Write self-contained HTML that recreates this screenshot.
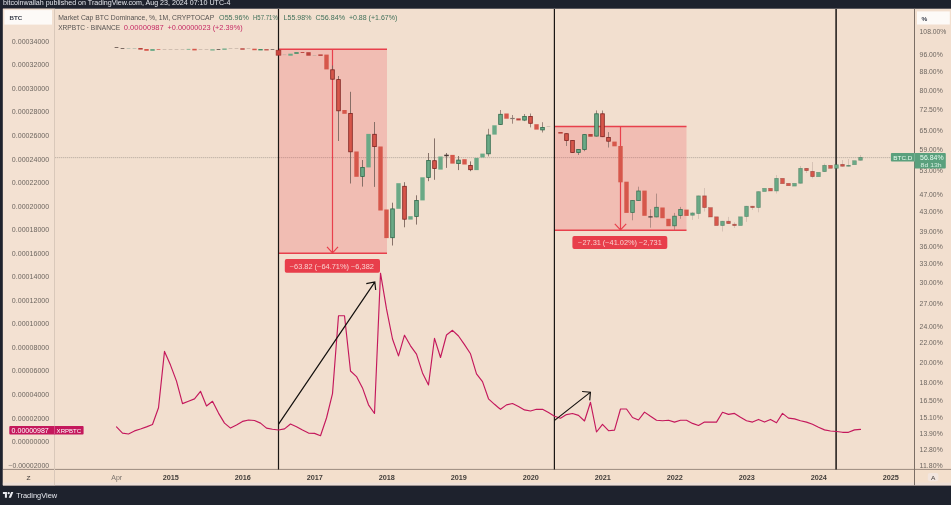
<!DOCTYPE html>
<html><head><meta charset="utf-8"><title>chart</title>
<style>
html,body{margin:0;padding:0;}
body{width:951px;height:505px;position:relative;overflow:hidden;background:#1e222d;font-family:"Liberation Sans",sans-serif;}
svg{position:absolute;left:0;top:0;will-change:transform;filter:blur(0.45px);}
text{white-space:pre;}
</style></head><body>
<svg width="971" height="525" viewBox="-10 -10 971 525" style="left:-10px;top:-10px">
<rect x="-10" y="-10" width="971" height="525" fill="#1e222d"/>
<rect x="2.9" y="8.7" width="960" height="476.5" fill="#f2dfcf"/>
<rect x="2.9" y="8.7" width="51.5" height="476.5" fill="#f3e1d2"/>
<rect x="2.9" y="469.9" width="960" height="15.4" fill="#f3dfcc"/>
<rect x="2.9" y="482.6" width="960" height="2.7" fill="#eddfd6"/>
<rect x="2.9" y="468.9" width="960" height="1" fill="#9c8b80"/>
<rect x="927.8" y="473" width="10.6" height="8.2" rx="2" fill="#f2e5de"/>
<rect x="54" y="8.7" width="1" height="476.5" fill="#d9c8ba"/>
<rect x="914" y="8.7" width="1" height="476.5" fill="#7b6e65"/>
<!-- chart drawings -->
<line x1="55" y1="157.6" x2="914" y2="157.6" stroke="#e0d0c2" stroke-width="1"/><line x1="55" y1="157.6" x2="914" y2="157.6" stroke="#c2b2a6" stroke-width="0.9" stroke-dasharray="1 1"/>
<rect x="278.5" y="49.2" width="108.5" height="204" fill="#f23645" fill-opacity="0.2"/>
<path d="M278.5 49.3H387M278.5 253.2H387" stroke="#e8404c" stroke-width="1.5" fill="none"/>
<path d="M332.5 49.2V252.5M327 246.8L332.5 252.8L338 246.8" stroke="#e8404c" stroke-width="1.2" fill="none"/>
<rect x="554.5" y="126.4" width="132" height="103.8" fill="#f23645" fill-opacity="0.2"/>
<path d="M554.5 126.4H686.5M554.5 230.2H686.5" stroke="#e8404c" stroke-width="1.5" fill="none"/>
<path d="M620.5 126.4V229.6M614.8 223.8L620.5 229.8L626.2 223.8" stroke="#e8404c" stroke-width="1.2" fill="none"/>
<line x1="278.5" y1="9" x2="278.5" y2="469.5" stroke="#1a1614" stroke-width="1.2"/>
<line x1="554.4" y1="9" x2="554.4" y2="469.5" stroke="#1a1614" stroke-width="1.2"/>
<line x1="836.1" y1="9" x2="836.1" y2="469.5" stroke="#1a1614" stroke-width="1.5"/>
<rect x="114.65" y="47.00" width="3.7" height="0.70" fill="#4a3a36"/>
<rect x="120.65" y="48.20" width="3.7" height="0.70" fill="#4a3a36"/>
<rect x="126.65" y="48.25" width="3.7" height="0.60" fill="#9fb3a3"/>
<rect x="132.65" y="48.25" width="3.7" height="0.60" fill="#9fb3a3"/>
<rect x="138.30" y="48.00" width="4.4" height="1.60" fill="#b9413b"/>
<rect x="144.30" y="49.00" width="4.4" height="1.80" fill="#d6574b"/>
<rect x="150.30" y="49.00" width="4.4" height="1.90" fill="#6aa986"/>
<rect x="156.65" y="49.00" width="3.7" height="0.70" fill="#d6574b"/>
<rect x="162.65" y="49.20" width="3.7" height="0.60" fill="#b9a99c"/>
<rect x="168.65" y="49.20" width="3.7" height="0.60" fill="#b9a99c"/>
<rect x="174.65" y="49.20" width="3.7" height="0.60" fill="#b9a99c"/>
<rect x="180.65" y="49.20" width="3.7" height="0.60" fill="#b9a99c"/>
<rect x="186.65" y="48.90" width="3.7" height="0.80" fill="#6aa986"/>
<rect x="192.30" y="48.80" width="4.4" height="1.60" fill="#d6574b"/>
<rect x="198.65" y="49.20" width="3.7" height="0.60" fill="#b9a99c"/>
<rect x="204.65" y="49.00" width="3.7" height="0.60" fill="#b9a99c"/>
<rect x="210.30" y="49.30" width="4.4" height="1.20" fill="#6aa986"/>
<rect x="216.65" y="49.00" width="3.7" height="0.70" fill="#4a3a36"/>
<rect x="222.30" y="48.50" width="4.4" height="1.30" fill="#6aa986"/>
<rect x="228.65" y="48.00" width="3.7" height="0.60" fill="#b9a99c"/>
<rect x="234.65" y="48.20" width="3.7" height="0.60" fill="#b9a99c"/>
<rect x="240.30" y="48.30" width="4.4" height="1.40" fill="#b9413b"/>
<rect x="246.65" y="48.40" width="3.7" height="0.60" fill="#b9a99c"/>
<rect x="252.30" y="48.70" width="4.4" height="1.50" fill="#d6574b"/>
<rect x="258.30" y="49.00" width="4.4" height="1.40" fill="#3f8d64"/>
<rect x="264.30" y="49.20" width="4.4" height="1.20" fill="#b9413b"/>
<rect x="270.65" y="49.40" width="3.7" height="0.60" fill="#4a3a36"/>
<rect x="276.1" y="50.2" width="4.8" height="5.0" fill="#c9463f" stroke="#9c2f2a" stroke-width="0.6"/>
<rect x="282.65" y="54.50" width="3.7" height="0.60" fill="#b9a99c"/>
<rect x="288.30" y="53.70" width="4.4" height="2.00" fill="#6aa986"/>
<rect x="294.30" y="52.20" width="4.4" height="1.60" fill="#3f8d64"/>
<rect x="300.65" y="52.10" width="3.7" height="0.90" fill="#b9413b"/>
<rect x="306.30" y="52.20" width="4.4" height="3.50" fill="#b9413b"/>
<rect x="312.65" y="55.40" width="3.7" height="0.60" fill="#b9a99c"/>
<rect x="318.30" y="54.40" width="4.4" height="1.50" fill="#b9413b"/>
<rect x="324.30" y="54.60" width="4.4" height="14.80" fill="#d6574b"/>
<line x1="332.5" y1="65.5" x2="332.5" y2="79.6" stroke="#7b655d" stroke-width="0.9" stroke-opacity="1.0"/>
<rect x="330.7" y="69.8" width="3.6" height="9.4" fill="#d6574b" stroke="#7d2320" stroke-width="0.8" stroke-opacity="1.0"/>
<line x1="338.5" y1="76.0" x2="338.5" y2="141.0" stroke="#7b655d" stroke-width="0.9" stroke-opacity="1.0"/>
<rect x="336.7" y="79.6" width="3.6" height="31.2" fill="#d6574b" stroke="#7d2320" stroke-width="0.8" stroke-opacity="1.0"/>
<rect x="342.30" y="110.00" width="4.4" height="3.80" fill="#d6574b"/>
<line x1="350.5" y1="91.8" x2="350.5" y2="183.5" stroke="#7b655d" stroke-width="0.9" stroke-opacity="1.0"/>
<rect x="348.7" y="113.4" width="3.6" height="38.4" fill="#d6574b" stroke="#7d2320" stroke-width="0.8" stroke-opacity="1.0"/>
<rect x="354.30" y="151.50" width="4.4" height="25.30" fill="#d6574b"/>
<line x1="362.5" y1="160.0" x2="362.5" y2="186.6" stroke="#7b655d" stroke-width="0.9" stroke-opacity="1.0"/>
<rect x="360.7" y="167.4" width="3.6" height="9.0" fill="#6aa986" stroke="#2f6a4c" stroke-width="0.8" stroke-opacity="1.0"/>
<rect x="366.30" y="133.90" width="4.4" height="33.50" fill="#6aa986"/>
<line x1="374.5" y1="122.0" x2="374.5" y2="186.9" stroke="#7b655d" stroke-width="0.9" stroke-opacity="1.0"/>
<rect x="372.7" y="134.3" width="3.6" height="12.3" fill="#d6574b" stroke="#7d2320" stroke-width="0.8" stroke-opacity="1.0"/>
<rect x="378.30" y="146.50" width="4.4" height="64.00" fill="#d6574b"/>
<rect x="384.30" y="209.50" width="4.4" height="28.60" fill="#d6574b"/>
<line x1="392.5" y1="202.7" x2="392.5" y2="245.5" stroke="#7b655d" stroke-width="0.9" stroke-opacity="1.0"/>
<rect x="390.7" y="208.9" width="3.6" height="28.8" fill="#6aa986" stroke="#2f6a4c" stroke-width="0.8" stroke-opacity="1.0"/>
<rect x="396.30" y="183.20" width="4.4" height="25.60" fill="#6aa986"/>
<line x1="404.5" y1="182.2" x2="404.5" y2="227.3" stroke="#7b655d" stroke-width="0.9" stroke-opacity="1.0"/>
<rect x="402.7" y="186.3" width="3.6" height="32.9" fill="#d6574b" stroke="#7d2320" stroke-width="0.8" stroke-opacity="1.0"/>
<rect x="408.30" y="216.20" width="4.4" height="3.40" fill="#6aa986"/>
<line x1="416.5" y1="195.3" x2="416.5" y2="224.6" stroke="#7b655d" stroke-width="0.9" stroke-opacity="1.0"/>
<rect x="414.7" y="200.4" width="3.6" height="16.1" fill="#6aa986" stroke="#2f6a4c" stroke-width="0.8" stroke-opacity="1.0"/>
<rect x="420.30" y="177.30" width="4.4" height="23.10" fill="#6aa986"/>
<line x1="428.5" y1="153.0" x2="428.5" y2="181.2" stroke="#7b655d" stroke-width="0.9" stroke-opacity="1.0"/>
<rect x="426.7" y="160.5" width="3.6" height="16.9" fill="#6aa986" stroke="#2f6a4c" stroke-width="0.8" stroke-opacity="1.0"/>
<line x1="434.5" y1="138.4" x2="434.5" y2="179.8" stroke="#7b655d" stroke-width="0.9" stroke-opacity="1.0"/>
<rect x="432.7" y="160.7" width="3.6" height="7.8" fill="#d6574b" stroke="#7d2320" stroke-width="0.8" stroke-opacity="1.0"/>
<rect x="438.30" y="156.50" width="4.4" height="13.10" fill="#6aa986"/>
<line x1="446.5" y1="153.0" x2="446.5" y2="167.9" stroke="#7b655d" stroke-width="0.9" stroke-opacity="1.0"/>
<rect x="444.7" y="155.1" width="3.6" height="0.7" fill="#4a3a36" stroke="#4a3a36" stroke-width="0.8" stroke-opacity="1.0"/>
<rect x="450.30" y="154.90" width="4.4" height="8.70" fill="#d6574b"/>
<line x1="458.5" y1="156.0" x2="458.5" y2="170.1" stroke="#7b655d" stroke-width="0.9" stroke-opacity="1.0"/>
<rect x="456.7" y="160.1" width="3.6" height="3.5" fill="#6aa986" stroke="#2f6a4c" stroke-width="0.8" stroke-opacity="1.0"/>
<rect x="462.30" y="159.20" width="4.4" height="5.30" fill="#d6574b"/>
<line x1="470.5" y1="161.4" x2="470.5" y2="171.2" stroke="#7b655d" stroke-width="0.9" stroke-opacity="1.0"/>
<rect x="468.7" y="165.5" width="3.6" height="4.2" fill="#d6574b" stroke="#7d2320" stroke-width="0.8" stroke-opacity="1.0"/>
<rect x="474.30" y="157.90" width="4.4" height="12.20" fill="#6aa986"/>
<rect x="480.30" y="153.60" width="4.4" height="3.90" fill="#6aa986"/>
<line x1="488.5" y1="128.8" x2="488.5" y2="156.4" stroke="#7b655d" stroke-width="0.9" stroke-opacity="0.8"/>
<rect x="486.7" y="135.0" width="3.6" height="18.8" fill="#6aa986" stroke="#2f6a4c" stroke-width="0.8" stroke-opacity="1.0"/>
<rect x="492.30" y="125.30" width="4.4" height="9.30" fill="#6aa986"/>
<line x1="500.5" y1="110.0" x2="500.5" y2="124.8" stroke="#7b655d" stroke-width="0.9" stroke-opacity="0.8"/>
<rect x="498.7" y="114.3" width="3.6" height="10.1" fill="#6aa986" stroke="#2f6a4c" stroke-width="0.8" stroke-opacity="1.0"/>
<rect x="504.30" y="113.50" width="4.4" height="5.20" fill="#d6574b"/>
<line x1="512.5" y1="115.0" x2="512.5" y2="123.7" stroke="#7b655d" stroke-width="0.9" stroke-opacity="0.8"/>
<rect x="510.7" y="118.3" width="3.6" height="0.4" fill="#85776f" stroke="#85776f" stroke-width="0.8" stroke-opacity="1.0"/>
<rect x="516.30" y="118.40" width="4.4" height="2.00" fill="#b9413b"/>
<line x1="524.5" y1="114.0" x2="524.5" y2="121.1" stroke="#7b655d" stroke-width="0.9" stroke-opacity="0.8"/>
<rect x="522.7" y="116.5" width="3.6" height="3.6" fill="#6aa986" stroke="#2f6a4c" stroke-width="0.8" stroke-opacity="1.0"/>
<line x1="530.5" y1="113.5" x2="530.5" y2="127.4" stroke="#7b655d" stroke-width="0.9" stroke-opacity="0.8"/>
<rect x="528.7" y="116.5" width="3.6" height="6.8" fill="#d6574b" stroke="#7d2320" stroke-width="0.8" stroke-opacity="1.0"/>
<rect x="534.30" y="124.20" width="4.4" height="5.40" fill="#d6574b"/>
<line x1="542.5" y1="122.2" x2="542.5" y2="132.5" stroke="#7b655d" stroke-width="0.9" stroke-opacity="0.8"/>
<rect x="540.7" y="127.4" width="3.6" height="2.5" fill="#6aa986" stroke="#2f6a4c" stroke-width="0.8" stroke-opacity="1.0"/>
<rect x="546.65" y="126.30" width="3.7" height="0.60" fill="#b9a99c"/>
<rect x="558.30" y="132.00" width="4.4" height="1.60" fill="#b9413b"/>
<line x1="566.5" y1="133.3" x2="566.5" y2="146.0" stroke="#7b655d" stroke-width="0.9" stroke-opacity="0.8"/>
<rect x="564.7" y="133.7" width="3.6" height="6.9" fill="#d6574b" stroke="#7d2320" stroke-width="0.8" stroke-opacity="1.0"/>
<line x1="572.5" y1="140.1" x2="572.5" y2="152.9" stroke="#7b655d" stroke-width="0.9" stroke-opacity="0.8"/>
<rect x="570.7" y="140.5" width="3.6" height="12.0" fill="#d6574b" stroke="#7d2320" stroke-width="0.8" stroke-opacity="1.0"/>
<line x1="578.5" y1="149.0" x2="578.5" y2="155.0" stroke="#7b655d" stroke-width="0.9" stroke-opacity="0.8"/>
<rect x="576.7" y="149.4" width="3.6" height="3.1" fill="#6aa986" stroke="#2f6a4c" stroke-width="0.8" stroke-opacity="1.0"/>
<line x1="584.5" y1="134.2" x2="584.5" y2="151.2" stroke="#7b655d" stroke-width="0.9" stroke-opacity="0.8"/>
<rect x="582.7" y="134.6" width="3.6" height="14.9" fill="#6aa986" stroke="#2f6a4c" stroke-width="0.8" stroke-opacity="1.0"/>
<rect x="588.30" y="134.00" width="4.4" height="2.70" fill="#b9413b"/>
<line x1="596.5" y1="110.4" x2="596.5" y2="136.5" stroke="#7b655d" stroke-width="0.9" stroke-opacity="0.8"/>
<rect x="594.7" y="113.8" width="3.6" height="22.3" fill="#6aa986" stroke="#2f6a4c" stroke-width="0.8" stroke-opacity="1.0"/>
<line x1="602.5" y1="110.5" x2="602.5" y2="137.1" stroke="#7b655d" stroke-width="0.9" stroke-opacity="0.8"/>
<rect x="600.7" y="113.8" width="3.6" height="22.9" fill="#d6574b" stroke="#7d2320" stroke-width="0.8" stroke-opacity="1.0"/>
<line x1="608.5" y1="132.1" x2="608.5" y2="147.5" stroke="#7b655d" stroke-width="0.9" stroke-opacity="0.8"/>
<rect x="606.7" y="137.5" width="3.6" height="3.7" fill="#d6574b" stroke="#7d2320" stroke-width="0.8" stroke-opacity="1.0"/>
<rect x="612.30" y="141.60" width="4.4" height="4.70" fill="#d6574b"/>
<rect x="618.30" y="146.00" width="4.4" height="36.30" fill="#d6574b"/>
<rect x="624.30" y="181.70" width="4.4" height="31.20" fill="#d6574b"/>
<line x1="632.5" y1="200.1" x2="632.5" y2="220.3" stroke="#7b655d" stroke-width="0.9" stroke-opacity="0.6"/>
<rect x="630.7" y="200.5" width="3.6" height="12.0" fill="#6aa986" stroke="#2f6a4c" stroke-width="0.8" stroke-opacity="0.85"/>
<line x1="638.5" y1="186.7" x2="638.5" y2="201.0" stroke="#7b655d" stroke-width="0.9" stroke-opacity="0.6"/>
<rect x="636.7" y="191.0" width="3.6" height="9.6" fill="#6aa986" stroke="#2f6a4c" stroke-width="0.8" stroke-opacity="0.85"/>
<rect x="642.30" y="190.60" width="4.4" height="25.20" fill="#d6574b"/>
<line x1="650.5" y1="209.3" x2="650.5" y2="227.7" stroke="#7b655d" stroke-width="0.9" stroke-opacity="0.6"/>
<rect x="648.7" y="216.7" width="3.6" height="0.4" fill="#4a3a36" stroke="#4a3a36" stroke-width="0.8" stroke-opacity="0.85"/>
<line x1="656.5" y1="193.6" x2="656.5" y2="217.3" stroke="#7b655d" stroke-width="0.9" stroke-opacity="0.6"/>
<rect x="654.7" y="207.3" width="3.6" height="9.6" fill="#6aa986" stroke="#2f6a4c" stroke-width="0.8" stroke-opacity="0.85"/>
<rect x="660.30" y="207.50" width="4.4" height="10.70" fill="#d6574b"/>
<rect x="666.30" y="218.80" width="4.4" height="7.40" fill="#d6574b"/>
<line x1="674.5" y1="212.9" x2="674.5" y2="229.8" stroke="#7b655d" stroke-width="0.9" stroke-opacity="0.6"/>
<rect x="672.7" y="216.2" width="3.6" height="9.6" fill="#6aa986" stroke="#2f6a4c" stroke-width="0.8" stroke-opacity="0.85"/>
<line x1="680.5" y1="206.9" x2="680.5" y2="218.8" stroke="#7b655d" stroke-width="0.9" stroke-opacity="0.6"/>
<rect x="678.7" y="209.5" width="3.6" height="6.0" fill="#6aa986" stroke="#2f6a4c" stroke-width="0.8" stroke-opacity="0.85"/>
<rect x="684.30" y="209.60" width="4.4" height="6.30" fill="#d6574b"/>
<line x1="692.5" y1="211.9" x2="692.5" y2="219.9" stroke="#7b655d" stroke-width="0.9" stroke-opacity="0.26"/>
<rect x="690.7" y="213.0" width="3.6" height="2.2" fill="#6aa986" stroke="#2f6a4c" stroke-width="0.8" stroke-opacity="0.51"/>
<line x1="698.5" y1="195.5" x2="698.5" y2="218.9" stroke="#7b655d" stroke-width="0.9" stroke-opacity="0.26"/>
<rect x="696.7" y="195.9" width="3.6" height="17.6" fill="#6aa986" stroke="#2f6a4c" stroke-width="0.8" stroke-opacity="0.51"/>
<line x1="704.5" y1="188.0" x2="704.5" y2="211.5" stroke="#7b655d" stroke-width="0.9" stroke-opacity="0.26"/>
<rect x="702.7" y="195.9" width="3.6" height="11.6" fill="#d6574b" stroke="#7d2320" stroke-width="0.8" stroke-opacity="0.51"/>
<rect x="708.6" y="207.6" width="3.8" height="9.4" fill="#d6574b" stroke="#7d2320" stroke-width="0.6" stroke-opacity="0.45"/>
<rect x="714.6" y="216.8" width="3.8" height="8.8" fill="#d6574b" stroke="#7d2320" stroke-width="0.6" stroke-opacity="0.45"/>
<line x1="722.5" y1="220.9" x2="722.5" y2="231.5" stroke="#7b655d" stroke-width="0.9" stroke-opacity="0.26"/>
<rect x="720.7" y="221.3" width="3.6" height="4.2" fill="#6aa986" stroke="#2f6a4c" stroke-width="0.8" stroke-opacity="0.51"/>
<line x1="728.5" y1="216.9" x2="728.5" y2="223.9" stroke="#7b655d" stroke-width="0.9" stroke-opacity="0.26"/>
<rect x="726.7" y="221.3" width="3.6" height="2.2" fill="#d6574b" stroke="#7d2320" stroke-width="0.8" stroke-opacity="0.51"/>
<line x1="734.5" y1="222.3" x2="734.5" y2="228.0" stroke="#7b655d" stroke-width="0.9" stroke-opacity="0.26"/>
<rect x="732.7" y="224.3" width="3.6" height="1.2" fill="#d6574b" stroke="#7d2320" stroke-width="0.8" stroke-opacity="0.51"/>
<rect x="738.6" y="216.8" width="3.8" height="8.8" fill="#6aa986" stroke="#2f6a4c" stroke-width="0.6" stroke-opacity="0.45"/>
<line x1="746.5" y1="205.9" x2="746.5" y2="221.9" stroke="#7b655d" stroke-width="0.9" stroke-opacity="0.26"/>
<rect x="744.7" y="206.3" width="3.6" height="10.2" fill="#6aa986" stroke="#2f6a4c" stroke-width="0.8" stroke-opacity="0.51"/>
<line x1="752.5" y1="205.9" x2="752.5" y2="210.0" stroke="#7b655d" stroke-width="0.9" stroke-opacity="0.26"/>
<rect x="750.7" y="206.3" width="3.6" height="1.2" fill="#d6574b" stroke="#7d2320" stroke-width="0.8" stroke-opacity="0.51"/>
<line x1="758.5" y1="191.3" x2="758.5" y2="212.3" stroke="#7b655d" stroke-width="0.9" stroke-opacity="0.26"/>
<rect x="756.7" y="191.7" width="3.6" height="15.8" fill="#6aa986" stroke="#2f6a4c" stroke-width="0.8" stroke-opacity="0.51"/>
<rect x="762.6" y="188.3" width="3.8" height="3.3" fill="#6aa986" stroke="#2f6a4c" stroke-width="0.6" stroke-opacity="0.45"/>
<rect x="768.6" y="188.3" width="3.8" height="2.7" fill="#d6574b" stroke="#7d2320" stroke-width="0.6" stroke-opacity="0.45"/>
<line x1="776.5" y1="175.0" x2="776.5" y2="193.5" stroke="#7b655d" stroke-width="0.9" stroke-opacity="0.26"/>
<rect x="774.7" y="178.4" width="3.6" height="12.5" fill="#6aa986" stroke="#2f6a4c" stroke-width="0.8" stroke-opacity="0.51"/>
<rect x="780.6" y="178.3" width="3.8" height="5.4" fill="#d6574b" stroke="#7d2320" stroke-width="0.6" stroke-opacity="0.45"/>
<rect x="786.6" y="183.3" width="3.8" height="2.4" fill="#d6574b" stroke="#7d2320" stroke-width="0.6" stroke-opacity="0.45"/>
<rect x="792.6" y="183.3" width="3.8" height="2.8" fill="#6aa986" stroke="#2f6a4c" stroke-width="0.6" stroke-opacity="0.45"/>
<line x1="800.5" y1="166.0" x2="800.5" y2="183.6" stroke="#7b655d" stroke-width="0.9" stroke-opacity="0.26"/>
<rect x="798.7" y="168.4" width="3.6" height="14.8" fill="#6aa986" stroke="#2f6a4c" stroke-width="0.8" stroke-opacity="0.51"/>
<line x1="806.5" y1="168.0" x2="806.5" y2="173.0" stroke="#7b655d" stroke-width="0.9" stroke-opacity="0.26"/>
<rect x="804.7" y="168.4" width="3.6" height="2.2" fill="#d6574b" stroke="#7d2320" stroke-width="0.8" stroke-opacity="0.51"/>
<line x1="812.5" y1="162.0" x2="812.5" y2="178.4" stroke="#7b655d" stroke-width="0.9" stroke-opacity="0.26"/>
<rect x="810.7" y="171.4" width="3.6" height="5.2" fill="#d6574b" stroke="#7d2320" stroke-width="0.8" stroke-opacity="0.51"/>
<rect x="816.6" y="172.3" width="3.8" height="4.4" fill="#6aa986" stroke="#2f6a4c" stroke-width="0.6" stroke-opacity="0.45"/>
<line x1="824.5" y1="163.6" x2="824.5" y2="172.0" stroke="#7b655d" stroke-width="0.9" stroke-opacity="0.26"/>
<rect x="822.7" y="165.4" width="3.6" height="6.2" fill="#6aa986" stroke="#2f6a4c" stroke-width="0.8" stroke-opacity="0.51"/>
<rect x="828.6" y="165.3" width="3.8" height="3.0" fill="#d6574b" stroke="#7d2320" stroke-width="0.6" stroke-opacity="0.45"/>
<rect x="834.6" y="164.7" width="3.8" height="3.6" fill="#6aa986" stroke="#2f6a4c" stroke-width="0.6" stroke-opacity="0.45"/>
<line x1="842.5" y1="160.0" x2="842.5" y2="166.6" stroke="#7b655d" stroke-width="0.9" stroke-opacity="0.26"/>
<rect x="840.7" y="164.4" width="3.6" height="1.8" fill="#d6574b" stroke="#7d2320" stroke-width="0.8" stroke-opacity="0.51"/>
<line x1="848.5" y1="159.0" x2="848.5" y2="166.6" stroke="#7b655d" stroke-width="0.9" stroke-opacity="0.26"/>
<rect x="846.7" y="165.4" width="3.6" height="0.8" fill="#6aa986" stroke="#2f6a4c" stroke-width="0.8" stroke-opacity="0.51"/>
<rect x="852.6" y="160.7" width="3.8" height="4.0" fill="#6aa986" stroke="#2f6a4c" stroke-width="0.6" stroke-opacity="0.45"/>
<line x1="860.5" y1="155.0" x2="860.5" y2="160.6" stroke="#7b655d" stroke-width="0.9" stroke-opacity="0.26"/>
<rect x="858.7" y="157.4" width="3.6" height="2.8" fill="#6aa986" stroke="#2f6a4c" stroke-width="0.8" stroke-opacity="0.51"/>
<polyline points="116.5,426.9 122.5,433.1 128.5,434.0 134.5,430.9 140.5,429.0 146.5,426.9 152.5,424.5 158.5,407.7 164.5,351.4 170.5,365.1 176.5,381.1 182.5,403.6 188.5,401.3 194.5,398.9 200.5,391.3 206.5,406.0 212.5,401.3 218.5,413.1 224.5,423.1 230.5,428.1 236.5,425.0 242.5,421.4 248.5,420.0 254.5,420.5 260.5,423.1 266.5,428.1 272.5,429.3 278.5,430.0 284.5,428.9 290.5,424.0 296.5,426.7 302.5,430.1 308.5,433.1 314.5,433.4 320.5,435.7 326.5,418.0 332.5,393.6 338.5,315.7 344.5,315.7 350.5,371.0 356.5,376.6 362.5,387.9 368.5,404.8 374.5,413.5 380.5,273.2 386.5,308.9 392.5,339.0 398.5,355.9 404.5,335.2 410.5,345.8 416.5,354.1 422.5,372.9 428.5,384.9 434.5,338.3 440.5,357.5 446.5,335.0 452.5,330.3 458.5,336.0 464.5,344.7 470.5,353.8 476.5,373.8 482.5,381.6 488.5,398.8 494.5,404.3 500.5,409.3 506.5,404.9 512.5,403.5 518.5,406.5 524.5,409.9 530.5,411.0 536.5,409.3 542.5,409.3 548.5,412.6 554.5,416.2 560.5,418.2 566.5,414.6 572.5,413.5 578.5,415.4 584.5,421.0 590.5,402.3 596.5,432.0 602.5,424.3 608.5,430.7 614.5,430.1 620.5,409.0 626.5,409.0 632.5,417.5 638.5,420.0 644.5,412.1 650.5,416.3 656.5,420.2 662.5,420.7 668.5,420.2 674.5,422.1 680.5,420.2 686.5,420.2 692.5,423.4 698.5,425.5 704.5,422.1 710.5,422.1 716.5,422.1 722.5,412.3 728.5,414.4 734.5,413.4 740.5,417.3 746.5,420.7 752.5,422.1 758.5,419.4 764.5,422.1 770.5,419.4 776.5,422.8 782.5,413.4 788.5,418.1 794.5,418.9 800.5,420.7 806.5,422.1 812.5,424.2 818.5,427.3 824.5,429.9 830.5,431.0 836.5,431.5 842.5,432.3 848.5,432.3 854.5,429.9 860.5,429.4" fill="none" stroke="#c4185c" stroke-width="1.15" stroke-linejoin="round" stroke-linecap="round"/>
<path d="M278.4 424.4L374.6 282.3M366.3 283.7L374.8 282L375.7 290" stroke="#14110f" stroke-width="1.2" fill="none"/>
<path d="M554.6 420.4L590.2 392.4M582.1 391.5L590.4 392.2L589.7 400.4" stroke="#14110f" stroke-width="1.2" fill="none"/>
<!-- axis texts -->
<g font-family="Liberation Sans, sans-serif" opacity="0.995">
<text x="11.80" y="44" font-size="6.3" fill="#6e6761" font-weight="normal" textLength="37.40" lengthAdjust="spacingAndGlyphs">0.00034000</text>
<text x="11.80" y="67" font-size="6.3" fill="#6e6761" font-weight="normal" textLength="37.40" lengthAdjust="spacingAndGlyphs">0.00032000</text>
<text x="11.80" y="91" font-size="6.3" fill="#6e6761" font-weight="normal" textLength="37.40" lengthAdjust="spacingAndGlyphs">0.00030000</text>
<text x="11.80" y="114" font-size="6.3" fill="#6e6761" font-weight="normal" textLength="37.40" lengthAdjust="spacingAndGlyphs">0.00028000</text>
<text x="11.80" y="138" font-size="6.3" fill="#6e6761" font-weight="normal" textLength="37.40" lengthAdjust="spacingAndGlyphs">0.00026000</text>
<text x="11.80" y="162" font-size="6.3" fill="#6e6761" font-weight="normal" textLength="37.40" lengthAdjust="spacingAndGlyphs">0.00024000</text>
<text x="11.80" y="185" font-size="6.3" fill="#6e6761" font-weight="normal" textLength="37.40" lengthAdjust="spacingAndGlyphs">0.00022000</text>
<text x="11.80" y="209" font-size="6.3" fill="#6e6761" font-weight="normal" textLength="37.40" lengthAdjust="spacingAndGlyphs">0.00020000</text>
<text x="11.80" y="232" font-size="6.3" fill="#6e6761" font-weight="normal" textLength="37.40" lengthAdjust="spacingAndGlyphs">0.00018000</text>
<text x="11.80" y="256" font-size="6.3" fill="#6e6761" font-weight="normal" textLength="37.40" lengthAdjust="spacingAndGlyphs">0.00016000</text>
<text x="11.80" y="279" font-size="6.3" fill="#6e6761" font-weight="normal" textLength="37.40" lengthAdjust="spacingAndGlyphs">0.00014000</text>
<text x="11.80" y="303" font-size="6.3" fill="#6e6761" font-weight="normal" textLength="37.40" lengthAdjust="spacingAndGlyphs">0.00012000</text>
<text x="11.80" y="326" font-size="6.3" fill="#6e6761" font-weight="normal" textLength="37.40" lengthAdjust="spacingAndGlyphs">0.00010000</text>
<text x="11.80" y="350" font-size="6.3" fill="#6e6761" font-weight="normal" textLength="37.40" lengthAdjust="spacingAndGlyphs">0.00008000</text>
<text x="11.80" y="373" font-size="6.3" fill="#6e6761" font-weight="normal" textLength="37.40" lengthAdjust="spacingAndGlyphs">0.00006000</text>
<text x="11.80" y="397" font-size="6.3" fill="#6e6761" font-weight="normal" textLength="37.40" lengthAdjust="spacingAndGlyphs">0.00004000</text>
<text x="11.80" y="421" font-size="6.3" fill="#6e6761" font-weight="normal" textLength="37.40" lengthAdjust="spacingAndGlyphs">0.00002000</text>
<text x="11.80" y="444" font-size="6.3" fill="#6e6761" font-weight="normal" textLength="37.40" lengthAdjust="spacingAndGlyphs">0.00000000</text>
<text x="8.40" y="468" font-size="6.3" fill="#6e6761" font-weight="normal" textLength="40.80" lengthAdjust="spacingAndGlyphs">−0.00002000</text>
<text x="919.60" y="34" font-size="6.3" fill="#6e6761" font-weight="normal" textLength="26.80" lengthAdjust="spacingAndGlyphs">108.00%</text>
<text x="919.60" y="57" font-size="6.3" fill="#6e6761" font-weight="normal" textLength="23.10" lengthAdjust="spacingAndGlyphs">96.00%</text>
<text x="919.60" y="74" font-size="6.3" fill="#6e6761" font-weight="normal" textLength="23.10" lengthAdjust="spacingAndGlyphs">88.00%</text>
<text x="919.60" y="93" font-size="6.3" fill="#6e6761" font-weight="normal" textLength="23.10" lengthAdjust="spacingAndGlyphs">80.00%</text>
<text x="919.60" y="112" font-size="6.3" fill="#6e6761" font-weight="normal" textLength="23.10" lengthAdjust="spacingAndGlyphs">72.50%</text>
<text x="919.60" y="133" font-size="6.3" fill="#6e6761" font-weight="normal" textLength="23.10" lengthAdjust="spacingAndGlyphs">65.00%</text>
<text x="919.60" y="152" font-size="6.3" fill="#6e6761" font-weight="normal" textLength="23.10" lengthAdjust="spacingAndGlyphs">59.00%</text>
<text x="919.60" y="173" font-size="6.3" fill="#6e6761" font-weight="normal" textLength="23.10" lengthAdjust="spacingAndGlyphs">53.00%</text>
<text x="919.60" y="197" font-size="6.3" fill="#6e6761" font-weight="normal" textLength="23.10" lengthAdjust="spacingAndGlyphs">47.00%</text>
<text x="919.60" y="214" font-size="6.3" fill="#6e6761" font-weight="normal" textLength="23.10" lengthAdjust="spacingAndGlyphs">43.00%</text>
<text x="919.60" y="234" font-size="6.3" fill="#6e6761" font-weight="normal" textLength="23.10" lengthAdjust="spacingAndGlyphs">39.00%</text>
<text x="919.60" y="249" font-size="6.3" fill="#6e6761" font-weight="normal" textLength="23.10" lengthAdjust="spacingAndGlyphs">36.00%</text>
<text x="919.60" y="266" font-size="6.3" fill="#6e6761" font-weight="normal" textLength="23.10" lengthAdjust="spacingAndGlyphs">33.00%</text>
<text x="919.60" y="285" font-size="6.3" fill="#6e6761" font-weight="normal" textLength="23.10" lengthAdjust="spacingAndGlyphs">30.00%</text>
<text x="919.60" y="306" font-size="6.3" fill="#6e6761" font-weight="normal" textLength="23.10" lengthAdjust="spacingAndGlyphs">27.00%</text>
<text x="919.60" y="329" font-size="6.3" fill="#6e6761" font-weight="normal" textLength="23.10" lengthAdjust="spacingAndGlyphs">24.00%</text>
<text x="919.60" y="345" font-size="6.3" fill="#6e6761" font-weight="normal" textLength="23.10" lengthAdjust="spacingAndGlyphs">22.00%</text>
<text x="919.60" y="365" font-size="6.3" fill="#6e6761" font-weight="normal" textLength="23.10" lengthAdjust="spacingAndGlyphs">20.00%</text>
<text x="919.60" y="385" font-size="6.3" fill="#6e6761" font-weight="normal" textLength="23.10" lengthAdjust="spacingAndGlyphs">18.00%</text>
<text x="919.60" y="403" font-size="6.3" fill="#6e6761" font-weight="normal" textLength="23.10" lengthAdjust="spacingAndGlyphs">16.50%</text>
<text x="919.60" y="420" font-size="6.3" fill="#6e6761" font-weight="normal" textLength="23.10" lengthAdjust="spacingAndGlyphs">15.10%</text>
<text x="919.60" y="436" font-size="6.3" fill="#6e6761" font-weight="normal" textLength="23.10" lengthAdjust="spacingAndGlyphs">13.90%</text>
<text x="919.60" y="452" font-size="6.3" fill="#6e6761" font-weight="normal" textLength="23.10" lengthAdjust="spacingAndGlyphs">12.80%</text>
<text x="919.60" y="468" font-size="6.3" fill="#6e6761" font-weight="normal" textLength="23.10" lengthAdjust="spacingAndGlyphs">11.80%</text>
<text x="111.25" y="480" font-size="6.3" fill="#7b746e" font-weight="normal" textLength="10.90" lengthAdjust="spacingAndGlyphs">Apr</text>
<text x="162.70" y="480" font-size="6.3" fill="#45403c" font-weight="bold" textLength="16.20" lengthAdjust="spacingAndGlyphs">2015</text>
<text x="234.70" y="480" font-size="6.3" fill="#45403c" font-weight="bold" textLength="16.20" lengthAdjust="spacingAndGlyphs">2016</text>
<text x="306.70" y="480" font-size="6.3" fill="#45403c" font-weight="bold" textLength="16.20" lengthAdjust="spacingAndGlyphs">2017</text>
<text x="378.70" y="480" font-size="6.3" fill="#45403c" font-weight="bold" textLength="16.20" lengthAdjust="spacingAndGlyphs">2018</text>
<text x="450.70" y="480" font-size="6.3" fill="#45403c" font-weight="bold" textLength="16.20" lengthAdjust="spacingAndGlyphs">2019</text>
<text x="522.70" y="480" font-size="6.3" fill="#45403c" font-weight="bold" textLength="16.20" lengthAdjust="spacingAndGlyphs">2020</text>
<text x="594.70" y="480" font-size="6.3" fill="#45403c" font-weight="bold" textLength="16.20" lengthAdjust="spacingAndGlyphs">2021</text>
<text x="666.70" y="480" font-size="6.3" fill="#45403c" font-weight="bold" textLength="16.20" lengthAdjust="spacingAndGlyphs">2022</text>
<text x="738.70" y="480" font-size="6.3" fill="#45403c" font-weight="bold" textLength="16.20" lengthAdjust="spacingAndGlyphs">2023</text>
<text x="810.70" y="480" font-size="6.3" fill="#45403c" font-weight="bold" textLength="16.20" lengthAdjust="spacingAndGlyphs">2024</text>
<text x="882.70" y="480" font-size="6.3" fill="#45403c" font-weight="bold" textLength="16.20" lengthAdjust="spacingAndGlyphs">2025</text>
<text x="26.40" y="480" font-size="6.0" fill="#3f3a37" font-weight="normal" textLength="4.00" lengthAdjust="spacingAndGlyphs">Z</text>
<text x="931.10" y="480" font-size="6.0" fill="#3f3a37" font-weight="normal" textLength="4.40" lengthAdjust="spacingAndGlyphs">A</text>
</g>
<!-- boxes -->
<rect x="4.4" y="10.1" width="47.6" height="14.5" fill="#fdfaf7"/>
<rect x="917" y="11.4" width="32.8" height="13.1" fill="#fdfaf7"/>
<rect x="284.8" y="259.1" width="95.2" height="13.6" rx="1.8" fill="#e83e4b"/>
<rect x="572.4" y="235.9" width="94.9" height="13.2" rx="2" fill="#e83e4b"/>
<rect x="9.3" y="426" width="74.3" height="8.5" rx="1" fill="#c4185c"/>
<rect x="54.2" y="426" width="0.8" height="8.5" fill="#d9558a"/>
<rect x="890.9" y="153.1" width="24" height="8.5" rx="1" fill="#5aa07d"/>
<rect x="914.5" y="153.1" width="31.3" height="15.4" rx="1" fill="#5aa07d"/>
<rect x="914.3" y="153.1" width="0.7" height="8.5" fill="#7fb89b"/>
<g transform="translate(2.9,492.1) scale(0.2889,0.28)"><path fill="#e9ebf0" d="M14 20H7V7H0V0h14v20zM28 20h-8L28.5 0H36l-8 20z"/><circle cx="20" cy="4" r="4" fill="#e9ebf0"/></g>
<!-- texts -->
<g font-family="Liberation Sans, sans-serif" opacity="0.995">
<text x="58.20" y="20" font-size="6.3" fill="#555250" font-weight="normal" textLength="156.00" lengthAdjust="spacingAndGlyphs">Market Cap BTC Dominance, %, 1M, CRYPTOCAP</text>
<text x="219.10" y="20" font-size="6.3" fill="#42725b" font-weight="normal" textLength="29.80" lengthAdjust="spacingAndGlyphs">O55.96%</text>
<text x="253.00" y="20" font-size="6.3" fill="#42725b" font-weight="normal" textLength="24.80" lengthAdjust="spacingAndGlyphs">H57.71%</text>
<text x="283.60" y="20" font-size="6.3" fill="#42725b" font-weight="normal" textLength="27.90" lengthAdjust="spacingAndGlyphs">L55.98%</text>
<text x="315.60" y="20" font-size="6.3" fill="#42725b" font-weight="normal" textLength="29.40" lengthAdjust="spacingAndGlyphs">C56.84%</text>
<text x="348.90" y="20" font-size="6.3" fill="#42725b" font-weight="normal" textLength="48.40" lengthAdjust="spacingAndGlyphs">+0.88 (+1.67%)</text>
<text x="58.20" y="30" font-size="6.3" fill="#555250" font-weight="normal" textLength="62.00" lengthAdjust="spacingAndGlyphs">XRPBTC · BINANCE</text>
<text x="123.80" y="30" font-size="6.3" fill="#c62a64" font-weight="normal" textLength="40.00" lengthAdjust="spacingAndGlyphs">0.00000987</text>
<text x="167.60" y="30" font-size="6.3" fill="#c62a64" font-weight="normal" textLength="75.00" lengthAdjust="spacingAndGlyphs">+0.00000023 (+2.39%)</text>
<text x="3.00" y="5" font-size="6.3" fill="#e4e6ec" font-weight="normal" textLength="227.40" lengthAdjust="spacingAndGlyphs">bitcoinwallah published on TradingView.com, Aug 23, 2024 07:10 UTC-4</text>
<text x="9.60" y="20" font-size="6.2" fill="#3a3f4c" font-weight="bold" textLength="12.70" lengthAdjust="spacingAndGlyphs">BTC</text>
<text x="921.60" y="21" font-size="6.0" fill="#3a3f4c" font-weight="bold" textLength="5.80" lengthAdjust="spacingAndGlyphs">%</text>
<text x="289.70" y="269" font-size="6.5" fill="#fad2cf" font-weight="normal" textLength="84.20" lengthAdjust="spacingAndGlyphs">−63.82 (−64.71%) −6,382</text>
<text x="578.10" y="245" font-size="6.5" fill="#fad2cf" font-weight="normal" textLength="83.70" lengthAdjust="spacingAndGlyphs">−27.31 (−41.02%) −2,731</text>
<text x="11.60" y="433" font-size="6.3" fill="#ffffff" font-weight="normal" textLength="37.20" lengthAdjust="spacingAndGlyphs">0.00000987</text>
<text x="56.60" y="433" font-size="6.2" fill="#ffffff" font-weight="normal" textLength="24.60" lengthAdjust="spacingAndGlyphs">XRPBTC</text>
<text x="893.30" y="160" font-size="6.1" fill="#eafff3" font-weight="normal" textLength="19.00" lengthAdjust="spacingAndGlyphs">BTC.D</text>
<text x="920.10" y="160" font-size="6.3" fill="#eafff3" font-weight="normal" textLength="23.50" lengthAdjust="spacingAndGlyphs">56.84%</text>
<text x="920.60" y="167" font-size="5.2" fill="#d4efe0" font-weight="normal" textLength="21.00" lengthAdjust="spacingAndGlyphs">8d 13h</text>
<text x="16.20" y="498" font-size="7.3" fill="#e6e8ee" font-weight="normal" textLength="41.00" lengthAdjust="spacingAndGlyphs">TradingView</text>
</g>
</svg>
</body></html>
